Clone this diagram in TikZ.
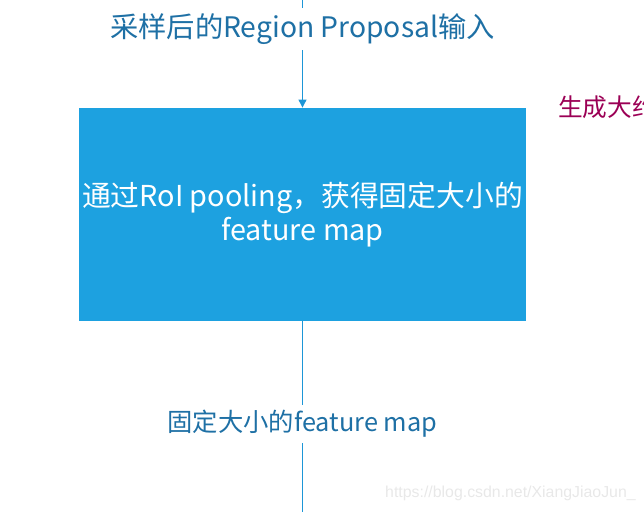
\documentclass[tikz,border=0pt]{standalone}
\usepackage{fontspec}
\setmainfont{Noto Sans CJK SC}
\setsansfont{Liberation Sans}
\usetikzlibrary{arrows.meta,positioning}
\definecolor{lblblue}{RGB}{30,112,165}
\definecolor{boxblue}{RGB}{29,161,224}
\definecolor{linecol}{RGB}{29,150,215}
\definecolor{gencol}{RGB}{155,0,85}
\definecolor{wmark}{RGB}{232,232,232}

\begin{document}
\begin{tikzpicture}[x=0.75pt, y=-0.75pt,
  lbl/.style={fill=white, text=lblblue, inner xsep=2pt, inner ysep=4pt},
  roibox/.style={fill=boxblue, text=white, align=center, inner sep=0pt,
                 minimum width=335pt, minimum height=160pt,
                 font=\fontsize{21.6}{25.5}\selectfont},
  ar/.style={-{Triangle[length=6pt,width=6pt]}, draw=linecol, line width=0.8pt},
  flow/.style={draw=linecol, line width=0.8pt},
]
  \useasboundingbox (0,0) rectangle (644,512);

  \node[roibox] (roi) at (302.5,214.5)
        {通过RoI pooling，获得固定大小的\\feature map};
  \coordinate (src) at (302.5,0);
  \coordinate (sink) at (302.5,512);

  \draw[ar] (src) -- (roi.north);
  \draw[flow] (roi.south) -- (sink);

  \node[lbl, font=\fontsize{21.2}{25}\selectfont] (inlbl) at (302.5,29)
        {采样后的Region Proposal输入};
  \node[lbl, font=\fontsize{19}{23}\selectfont] (outlbl) at (302.5,424)
        {固定大小的feature map};

  \node[text=gencol, anchor=west, inner sep=0pt,
        font=\fontsize{18.5}{22}\selectfont] (gen) at (558,107) {生成大约};
  \node[text=wmark, anchor=east, inner sep=0pt,
        font=\sffamily\fontsize{11.9}{14}\selectfont] (mark) at (636,493)
        {https://blog.csdn.net/XiangJiaoJun\_};
\end{tikzpicture}
\end{document}
